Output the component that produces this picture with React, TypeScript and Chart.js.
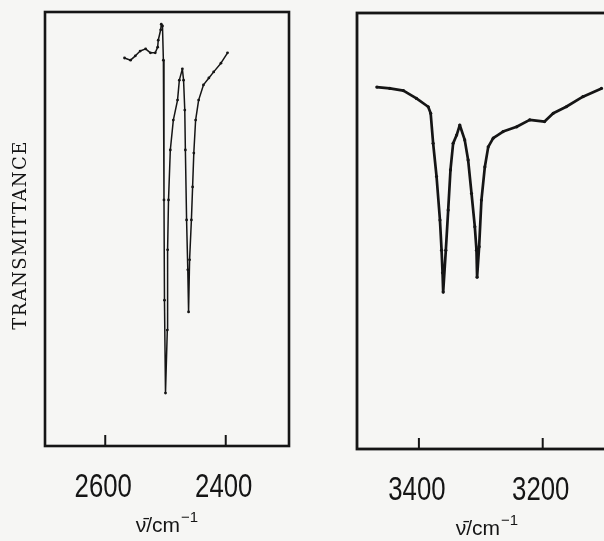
import React, { useEffect, useRef } from "react";
import { Chart, registerables } from "chart.js";

Chart.register(...registerables);

// ---- data (wavenumber in cm^-1, transmittance in arbitrary % units) ----
const leftWavenumbers = [
  2568, 2558, 2550, 2542, 2533, 2525, 2517, 2513, 2512, 2508, 2507, 2505,
  2503.5, 2502.5, 2501.7, 2500, 2497, 2496.5, 2495, 2492, 2487, 2480, 2477,
  2472, 2470, 2468, 2467, 2465, 2463, 2461.7, 2460, 2457, 2455, 2453, 2450,
  2445, 2437, 2428, 2420, 2408, 2397,
];
const leftTransmittance = [
  89.4, 88.9, 89.9, 91.0, 91.5, 90.6, 90.6, 91.9, 93.5, 95.9, 97.2, 96.8,
  88.9, 56.7, 33.6, 12.2, 26.7, 45.2, 56.7, 68.2, 75.1, 79.7, 84.3,
  86.9, 84.3, 77.4, 68.2, 52.1, 40.6, 30.9, 42.9, 52.1, 59.7, 67.5, 75.1,
  79.7, 83.2, 84.8, 86.2, 88.2, 90.6,
];
const rightWavenumbers = [
  3468, 3447, 3425, 3404, 3385, 3381, 3377, 3371.5, 3366, 3363.4, 3361.8,
  3360.8, 3356.5, 3352.7, 3349, 3344.7, 3339, 3334, 3326, 3320.5, 3315,
  3309.7, 3307, 3306, 3302.7, 3299, 3293.5, 3288, 3280, 3264, 3242, 3221,
  3197, 3183, 3162, 3135, 3105,
];
const rightTransmittance = [
  83.0, 82.7, 82.2, 80.4, 78.5, 77.0, 70.1, 62.5, 52.5, 45.6, 40.4,
  36.0, 45.6, 54.8, 64.0, 70.1, 72.0, 74.3, 70.9, 66.3, 58.6,
  51.0, 45.6, 39.4, 46.4, 57.1, 64.7, 69.3, 71.3, 72.8, 73.9, 75.5,
  75.1, 77.0, 78.5, 80.8, 82.7,
];
const leftTicks = [2600, 2400];
const rightTicks = [3400, 3200];
const leftRange = [2700, 2295];
const rightRange = [3500, 3080];
const yAxisTitle = "TRANSMITTANCE";
const xAxisTitleMain = "\u03bd\u0304/cm";
const xAxisTitleSup = "\u22121";

const INK = "#151515";

type PanelProps = {
  wavenumbers: number[];
  transmittance: number[];
  ticks: number[];
  range: number[];
  canvasLeft: number;
  canvasWidth: number;
  padLeft: number;
  padRight: number;
  padTop: number;
  axisHeight: number;
  lineWidth: number;
  pointSize: number;
  frameWidth: number;
  showYTitle: boolean;
};

function Panel(p: PanelProps) {
  const ref = useRef<HTMLCanvasElement | null>(null);
  useEffect(() => {
    if (!ref.current) return;
    const overlay = {
      id: "frameAndTitles",
      afterDatasetsDraw(chart: any) {
        const { ctx, chartArea: a, scales } = chart;
        ctx.save();
        ctx.strokeStyle = INK;
        ctx.fillStyle = INK;
        ctx.lineWidth = p.frameWidth;
        ctx.strokeRect(a.left, a.top, a.right - a.left, a.bottom - a.top);
        ctx.lineWidth = 2;
        p.ticks.forEach((v) => {
          const px = scales.x.getPixelForValue(v);
          ctx.beginPath();
          ctx.moveTo(px, a.bottom);
          ctx.lineTo(px, a.bottom - 11);
          ctx.stroke();
          // condensed tick label
          ctx.save();
          ctx.translate(px - 2, a.bottom + 51);
          ctx.scale(0.78, 1);
          ctx.font = "33px 'Liberation Sans', Arial, sans-serif";
          ctx.textAlign = "center";
          ctx.textBaseline = "alphabetic";
          ctx.fillText(String(v), 0, 0);
          ctx.restore();
        });
        // x-axis title with superscript
        const cx = (a.left + a.right) / 2;
        const baseY = a.bottom + 86;
        const mainFont = "21px 'Liberation Sans', Arial, sans-serif";
        const supFont = "15px 'Liberation Sans', Arial, sans-serif";
        ctx.font = mainFont;
        const w1 = ctx.measureText(xAxisTitleMain).width;
        ctx.font = supFont;
        const w2 = ctx.measureText(xAxisTitleSup).width;
        const x0 = cx - (w1 + w2 + 1) / 2;
        ctx.textBaseline = "alphabetic";
        ctx.textAlign = "left";
        ctx.font = mainFont;
        ctx.fillText(xAxisTitleMain, x0, baseY);
        ctx.font = supFont;
        ctx.fillText(xAxisTitleSup, x0 + w1 + 1, baseY - 10);
        if (p.showYTitle) {
          ctx.translate(21, (a.top + a.bottom) / 2 + 6);
          ctx.rotate(-Math.PI / 2);
          ctx.font = "18px 'DejaVu Serif', 'Liberation Serif', serif";
          (ctx as any).letterSpacing = "1.4px";
          ctx.textAlign = "center";
          ctx.textBaseline = "middle";
          ctx.fillText(yAxisTitle, 0, 0);
        }
        ctx.restore();
      },
    };
    const chart = new Chart(ref.current, {
      type: "line",
      data: {
        datasets: [
          {
            data: p.wavenumbers.map((x, i) => ({ x, y: p.transmittance[i] })),
            borderColor: INK,
            backgroundColor: INK,
            borderWidth: p.lineWidth,
            pointRadius: p.pointSize,
            pointBorderWidth: 0,
            tension: 0,
            fill: false,
            borderJoinStyle: "round",
          },
        ],
      },
      options: {
        responsive: false,
        animation: false,
        layout: {
          padding: { left: p.padLeft, right: p.padRight, top: p.padTop, bottom: 0 },
        },
        plugins: { legend: { display: false }, tooltip: { enabled: false } },
        scales: {
          x: {
            type: "linear",
            reverse: true,
            min: Math.min(p.range[0], p.range[1]),
            max: Math.max(p.range[0], p.range[1]),
            afterBuildTicks: (s: any) => {
              s.ticks = p.ticks.map((v) => ({ value: v }));
            },
            afterFit: (s: any) => {
              s.height = p.axisHeight;
            },
            grid: { display: false, drawTicks: false },
            border: { display: false },
            ticks: { display: false },
          },
          y: { display: false, min: 0, max: 100 },
        },
      },
      plugins: [overlay],
    } as any);
    return () => chart.destroy();
  }, []);
  return (
    <canvas
      ref={ref}
      width={p.canvasWidth}
      height={541}
      style={{ position: "absolute", left: p.canvasLeft, top: 0, width: p.canvasWidth, height: 541 }}
    />
  );
}

export default function App() {
  return (
    <div
      style={{
        position: "fixed",
        left: 0,
        top: 0,
        width: 604,
        height: 541,
        overflow: "hidden",
        background: "#f6f6f4",
      }}
    >
      <Panel
        wavenumbers={leftWavenumbers}
        transmittance={leftTransmittance}
        ticks={leftTicks}
        range={leftRange}
        canvasLeft={0}
        canvasWidth={300}
        padLeft={45}
        padRight={11}
        padTop={12}
        axisHeight={95}
        lineWidth={1.5}
        pointSize={1.4}
        frameWidth={2.6}
        showYTitle={true}
      />
      <Panel
        wavenumbers={rightWavenumbers}
        transmittance={rightTransmittance}
        ticks={rightTicks}
        range={rightRange}
        canvasLeft={300}
        canvasWidth={330}
        padLeft={57}
        padRight={13}
        padTop={13}
        axisHeight={92}
        lineWidth={2.7}
        pointSize={1.6}
        frameWidth={2.8}
        showYTitle={false}
      />
    </div>
  );
}
